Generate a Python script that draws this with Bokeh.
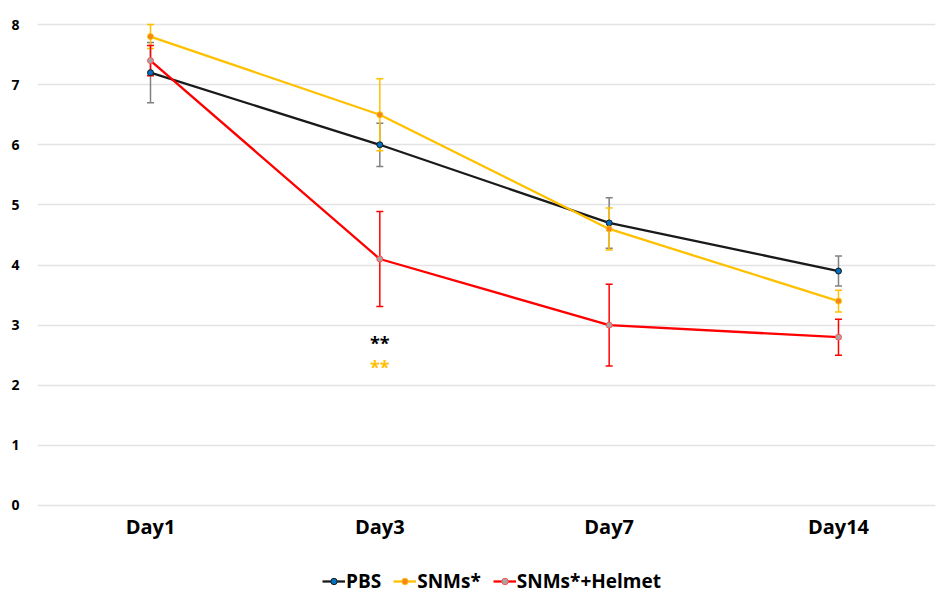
from bokeh.plotting import figure
from bokeh.layouts import column
from bokeh.models import (ColumnDataSource, Whisker, TeeHead, Legend, LegendItem,
                          FixedTicker, Range1d)
from bokeh.core.properties import value
from bokeh.embed import file_html
from bokeh.resources import INLINE

# ---- data ----
days = ["Day1", "Day3", "Day7", "Day14"]
pbs = [7.2, 6.0, 4.7, 3.9]
pbs_err = [0.5, 0.36, 0.42, 0.25]
snms = [7.8, 6.5, 4.6, 3.4]
snms_err = [0.2, 0.6, 0.35, 0.18]
helmet = [7.4, 4.1, 3.0, 2.8]
helmet_err = [0.25, 0.79, 0.68, 0.3]
y_ticks = [0, 1, 2, 3, 4, 5, 6, 7, 8]
sig_labels = ["**", "**"]
sig_day = ["Day3", "Day3"]
sig_y = [2.71, 2.30]
sig_colors = ["#000000", "#FFC000"]
series_names = ["PBS", "SNMs*", "SNMs*+Helmet"]

FONT = "Open Sans"
xpos = list(range(len(days)))

p = figure(width=939, height=550, output_backend="svg", toolbar_location=None,
           x_range=Range1d(-0.4927, 3.423), y_range=Range1d(-0.05, 8.4),
           min_border_left=37, min_border_right=4, min_border_top=0, min_border_bottom=42)
p.outline_line_color = None
p.background_fill_color = "white"
p.border_fill_color = "white"
p.xgrid.grid_line_color = None
p.ygrid.grid_line_color = "#E3E3E3"
p.ygrid.grid_line_width = 1.5

p.yaxis.ticker = FixedTicker(ticks=y_ticks)
p.yaxis.axis_line_color = None
p.yaxis.major_tick_line_color = None
p.yaxis.minor_tick_line_color = None
p.yaxis.major_tick_out = 0
p.yaxis.major_tick_in = 0
p.yaxis.major_label_text_font = FONT
p.yaxis.major_label_text_font_style = "bold"
p.yaxis.major_label_text_font_size = "14px"
p.yaxis.major_label_text_color = "#000000"
p.yaxis.major_label_standoff = 18

p.xaxis.ticker = FixedTicker(ticks=xpos)
p.xaxis.major_label_overrides = {i: d for i, d in zip(xpos, days)}
p.xaxis.axis_line_color = None
p.xaxis.major_tick_line_color = None
p.xaxis.minor_tick_line_color = None
p.xaxis.major_tick_out = 0
p.xaxis.major_tick_in = 0
p.xaxis.major_label_text_font = FONT
p.xaxis.major_label_text_font_style = "bold"
p.xaxis.major_label_text_font_size = "20px"
p.xaxis.major_label_text_color = "#000000"
p.xaxis.major_label_standoff = 4

# legend strip below the chart (its own small figure; sample glyphs kept out of view)
lf = figure(width=939, height=44, output_backend="svg", toolbar_location=None,
            x_range=Range1d(0, 1), y_range=Range1d(100, 101),
            min_border_left=0, min_border_right=0, min_border_top=0, min_border_bottom=0)
lf.axis.visible = False
lf.grid.visible = False
lf.outline_line_color = None

series = [
    (pbs, pbs_err, "#1A1A1A", "#808080", "#0070C0", "#1A1A1A"),
    (snms, snms_err, "#FFC000", "#FFC000", "#F5861F", "#FFC000"),
    (helmet, helmet_err, "#FF0000", "#FF0000", "#A6A6A6", "#FF5050"),
]
items = []
for name, (vals, errs, lc, ec, mf, ml) in zip(series_names, series):
    src = ColumnDataSource(dict(x=xpos, y=vals,
                                upper=[v + e for v, e in zip(vals, errs)],
                                lower=[v - e for v, e in zip(vals, errs)]))
    w = Whisker(source=src, base="x", upper="upper", lower="lower",
                line_color=ec, line_width=1.5,
                upper_head=TeeHead(size=7, line_color=ec, line_width=1.5),
                lower_head=TeeHead(size=7, line_color=ec, line_width=1.5))
    p.add_layout(w)
    p.line("x", "y", source=src, line_color=lc, line_width=2.3)
    p.scatter("x", "y", source=src, size=6, fill_color=mf, line_color=ml, line_width=1)
    ln = lf.line("x", "y", source=src, line_color=lc, line_width=2.3)
    sc = lf.scatter("x", "y", source=src, size=6, fill_color=mf, line_color=ml, line_width=1)
    items.append(LegendItem(label=name, renderers=[ln, sc]))

sig_src = ColumnDataSource(dict(x=[days.index(d) for d in sig_day], y=sig_y,
                                t=sig_labels, c=sig_colors))
p.text("x", "y", text="t", source=sig_src, text_color="c", text_align="center",
       text_baseline="middle", text_font=value(FONT), text_font_style="bold",
       text_font_size="18px")

legend = Legend(items=items, orientation="horizontal", location=(285, 0),
                background_fill_alpha=0, border_line_color=None,
                label_text_font=FONT, label_text_font_style="bold",
                label_text_font_size="19px", label_text_color="#000000",
                glyph_width=23, glyph_height=16, label_standoff=1, spacing=12,
                padding=0, margin=0)
lf.add_layout(legend)

layout = column(p, lf, spacing=0)
open("out.html", "w").write(file_html(layout, INLINE))
